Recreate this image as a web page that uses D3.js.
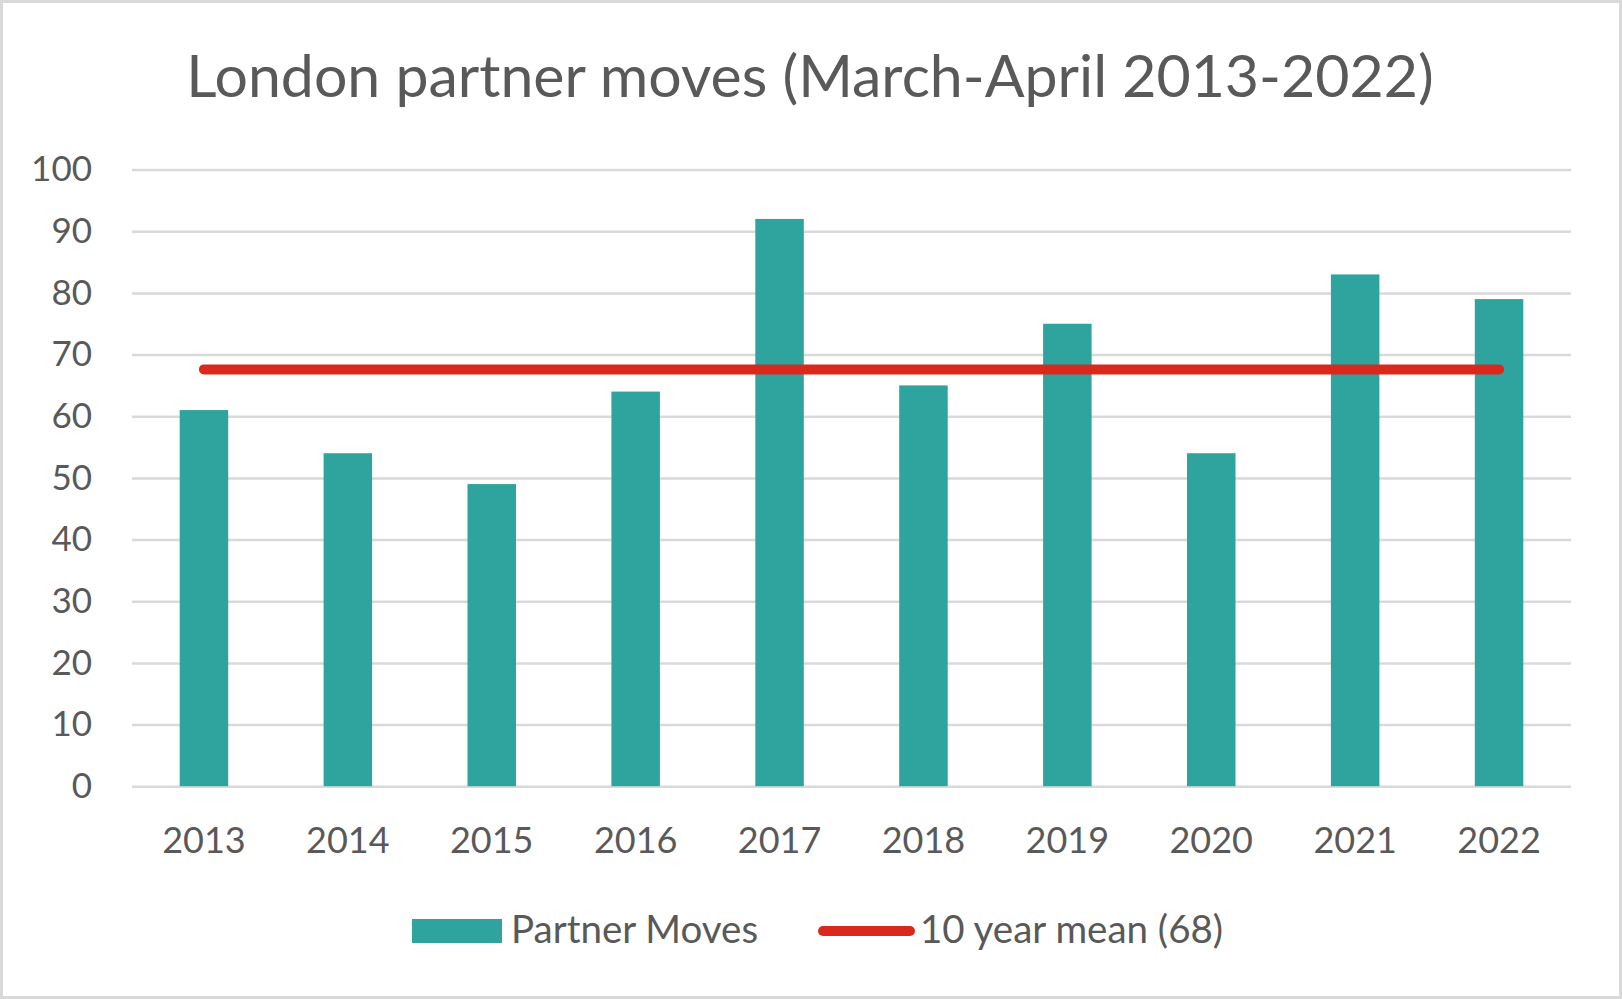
<!DOCTYPE html>
<html>
<head>
<meta charset="utf-8">
<script src="https://cdn.jsdelivr.net/npm/d3@7"></script>
<style>
  html, body { margin: 0; padding: 0; background: #fff; }
  svg { display: block; }
  text { font-family: Lato, "Open Sans", sans-serif; fill: #595959; }
</style>
</head>
<body>
<svg id="chart" width="1622" height="999"></svg>
<script>
const years = ["2013","2014","2015","2016","2017","2018","2019","2020","2021","2022"];
const partnerMoves = [61, 54, 49, 64, 92, 65, 75, 54, 83, 79];
const meanValues = [67.6, 67.6, 67.6, 67.6, 67.6, 67.6, 67.6, 67.6, 67.6, 67.6];
const yTicks = [0, 10, 20, 30, 40, 50, 60, 70, 80, 90, 100];
const titleText = "London partner moves (March-April 2013-2022)";
const seriesNames = ["Partner Moves", "10 year mean (68)"];

const W = 1622, H = 999;
const plot = { left: 132, right: 1571, top: 169.6, bottom: 786.2 };
const teal = "#2FA39D", red = "#DA291C", grid = "#D9D9D9";

const svg = d3.select("#chart");

// outer border
svg.append("rect")
  .attr("x", 1.5).attr("y", 1.5)
  .attr("width", W - 3).attr("height", H - 3)
  .attr("fill", "#fff").attr("stroke", grid).attr("stroke-width", 3);

const x = d3.scaleBand().domain(years)
  .range([plot.left, plot.right])
  .paddingInner(0.663).paddingOuter(0.3315);
const y = d3.scaleLinear().domain([0, 100]).range([plot.bottom, plot.top]);

// title
svg.append("text")
  .attr("x", 810).attr("y", 97)
  .attr("text-anchor", "middle")
  .attr("font-size", 59)
  .text(titleText);

// y axis + gridlines
const yAxis = d3.axisLeft(y).tickValues(yTicks)
  .tickSize(-(plot.right - plot.left)).tickPadding(40)
  .tickFormat(d3.format("d"));
const gy = svg.append("g").attr("transform", `translate(${plot.left},0)`).call(yAxis);
gy.select(".domain").remove();
gy.selectAll(".tick line").attr("stroke", grid).attr("stroke-width", 2.5);
gy.selectAll(".tick text")
  .attr("font-size", 35).attr("fill", "#595959")
  .attr("font-family", "Lato, 'Open Sans', sans-serif");

// bars
svg.append("g").selectAll("rect").data(years).join("rect")
  .attr("x", d => x(d))
  .attr("y", (d, i) => y(partnerMoves[i]))
  .attr("width", x.bandwidth())
  .attr("height", (d, i) => y(0) - y(partnerMoves[i]))
  .attr("fill", teal);

// x axis
const xAxis = d3.axisBottom(x).tickSize(0).tickPadding(41);
const gx = svg.append("g").attr("transform", `translate(0,${plot.bottom})`).call(xAxis);
gx.select(".domain").remove();
gx.selectAll(".tick text")
  .attr("font-size", 36).attr("fill", "#595959")
  .attr("font-family", "Lato, 'Open Sans', sans-serif");

// mean line
const line = d3.line()
  .x((d, i) => x(years[i]) + x.bandwidth() / 2)
  .y(d => y(d));
svg.append("path").datum(meanValues)
  .attr("d", line)
  .attr("fill", "none").attr("stroke", red)
  .attr("stroke-width", 10).attr("stroke-linecap", "round");

// legend
const lg = svg.append("g");
lg.append("rect").attr("x", 412).attr("y", 919).attr("width", 90).attr("height", 24).attr("fill", teal);
lg.append("text").attr("x", 511).attr("y", 943).attr("font-size", 38.5).text(seriesNames[0]);
lg.append("line").attr("x1", 823).attr("x2", 910).attr("y1", 931).attr("y2", 931)
  .attr("stroke", red).attr("stroke-width", 10).attr("stroke-linecap", "round");
lg.append("text").attr("x", 920).attr("y", 943).attr("font-size", 38.5).text(seriesNames[1]);
</script>
</body>
</html>
